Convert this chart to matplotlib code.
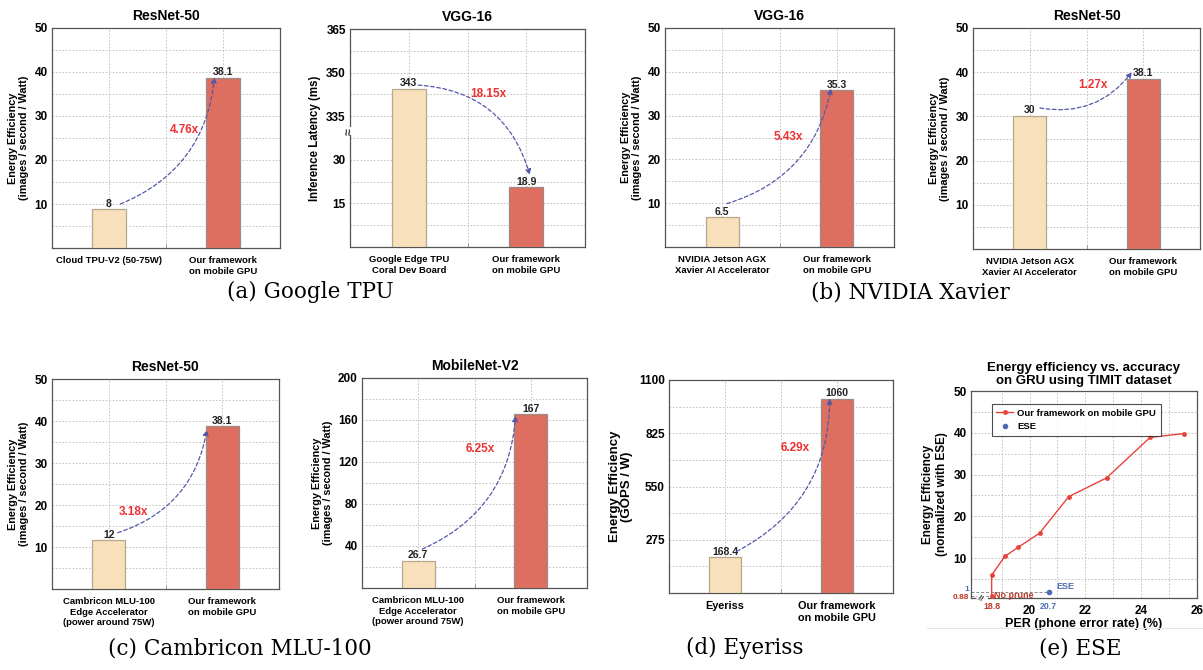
import matplotlib
matplotlib.use("Agg")
import matplotlib.pyplot as plt
from matplotlib.lines import Line2D

plt.rcParams['font.family'] = ['Liberation Sans', 'DejaVu Sans']
plt.rcParams['font.weight'] = 'bold'
plt.rcParams['axes.titleweight'] = 'bold'
plt.rcParams['axes.labelweight'] = 'bold'

W, H = 1203, 670

# ---- data ----
bar_names_tpu_resnet = ['Cloud TPU-V2 (50-75W)', 'Our framework\non mobile GPU']
tpu_resnet_heights = [8.8, 38.6]
tpu_resnet_labels = ['8', '38.1']

bar_names_tpu_vgg = ['Google Edge TPU\nCoral Dev Board', 'Our framework\non mobile GPU']
tpu_vgg_latency = [344.5, 20.5]
tpu_vgg_labels = ['343', '18.9']
tpu_vgg_ticklabels = ['15', '30', '335', '350', '365']

bar_names_xavier = ['NVIDIA Jetson AGX\nXavier AI Accelerator', 'Our framework\non mobile GPU']
xavier_vgg_heights = [6.8, 35.8]
xavier_vgg_labels = ['6.5', '35.3']
xavier_resnet_heights = [30.1, 38.5]
xavier_resnet_labels = ['30', '38.1']

bar_names_mlu = ['Cambricon MLU-100\nEdge Accelerator\n(power around 75W)', 'Our framework\non mobile GPU']
mlu_resnet_heights = [11.6, 38.7]
mlu_resnet_labels = ['12', '38.1']
mlu_mobilenet_heights = [26.0, 165.4]
mlu_mobilenet_labels = ['26.7', '167']

bar_names_eyeriss = ['Eyeriss', 'Our framework\non mobile GPU']
eyeriss_heights = [184, 1002]
eyeriss_labels = ['168.4', '1060']

ese_per = [18.64, 18.64, 19.11, 19.58, 20.36, 21.4, 22.76, 24.32, 25.52]
ese_eff = [1.0, 5.94, 10.4, 12.55, 15.98, 24.7, 29.2, 38.9, 39.8]
ese_point = (20.68, 1.9)

BEIGE = '#F8E1BA'
RED = '#DE6E5F'
ARROW = '#5458AA'
RATIO = '#EE3030'
GRID = '#BBBBBB'
SPINE = '#555555'


def px(l, t, r, b):
    return [l / W, 1 - b / H, (r - l) / W, (b - t) / H]


def bar_panel(ax, title, heights, labels, names, ylim, yticks, ystep, ylabel,
              ratio, ratio_xy, start, end, rad, yticklabels=None):
    xs = [1, 3]
    ax.bar(xs, heights, width=0.58, color=[BEIGE, RED],
           edgecolor=['#B5A88E', '#9E8A86'], linewidth=0.9, zorder=3)
    for x, h, lab in zip(xs, heights, labels):
        ax.annotate(lab, (x, h), xytext=(0, 0.5), textcoords='offset points',
                    ha='center', va='bottom', fontsize=7.5, color='#222222', zorder=5)
    ax.set_xlim(0, 4)
    ax.set_ylim(*ylim)
    ax.set_xticks(xs)
    ax.set_xticklabels(names, fontsize=6.8)
    ax.set_xticks([2], minor=True)
    ax.set_yticks(yticks)
    if yticklabels is not None:
        ax.set_yticklabels(yticklabels)
    ax.tick_params(axis='y', labelsize=8.5, length=0, pad=3)
    ax.tick_params(axis='x', which='both', direction='in', length=3, color='#888888', pad=6)
    gy = [ylim[0] + ystep * i for i in range(1, int(round((ylim[1] - ylim[0]) / ystep)))]
    for y in gy:
        ax.axhline(y, color=GRID, lw=0.6, ls=(0, (2, 2)), zorder=1)
    for x in [1, 2, 3]:
        ax.axvline(x, color=GRID, lw=0.6, ls=(0, (2, 2)), zorder=1)
    for s in ax.spines.values():
        s.set_color(SPINE)
        s.set_linewidth(0.9)
    ax.set_title(title, fontsize=10, pad=6)
    ax.set_ylabel(ylabel, fontsize=7.8, labelpad=4, linespacing=1.1)
    ax.annotate('', xy=end, xytext=start,
                arrowprops=dict(arrowstyle='-|>', linestyle=(0, (3, 2)), color=ARROW,
                                lw=0.9, connectionstyle='arc3,rad=%s' % rad,
                                shrinkA=0, shrinkB=0, mutation_scale=8), zorder=6)
    ax.text(ratio_xy[0], ratio_xy[1], ratio, color=RATIO, fontsize=8.5,
            ha='center', va='center', zorder=6)


fig = plt.figure(figsize=(W / 100, H / 100), dpi=100)

EE = 'Energy Efficiency\n(images / second / Watt)'

# (a) Google TPU
ax = fig.add_axes(px(52, 28, 280, 248))
bar_panel(ax, 'ResNet-50', tpu_resnet_heights, tpu_resnet_labels, bar_names_tpu_resnet,
          (0, 50), [10, 20, 30, 40, 50], 5, EE, '4.76x', (2.33, 26.9),
          (1.2, 10), (2.85, 38.8), 0.3)

ax = fig.add_axes(px(350, 29, 585, 247))
vgg_pos = [v if v < 37.5 else v - 290 for v in tpu_vgg_latency]
bar_panel(ax, 'VGG-16', vgg_pos, tpu_vgg_labels, bar_names_tpu_vgg,
          (0, 75), [15, 30, 45, 60, 75], 7.5, 'Inference Latency (ms)', '18.15x', (2.35, 52.5),
          (1.16, 55.7), (3.06, 24.8), -0.35, yticklabels=tpu_vgg_ticklabels)
ax.yaxis.label.set_size(8.3)
ax.text(0, 39.8, '\u2248', rotation=90, ha='center', va='center', fontsize=9,
        color='#333333', zorder=7, clip_on=False,
        bbox=dict(boxstyle='square,pad=0.05', fc='white', ec='none'))

# (b) NVIDIA Xavier
ax = fig.add_axes(px(665, 28, 894, 247))
bar_panel(ax, 'VGG-16', xavier_vgg_heights, xavier_vgg_labels, bar_names_xavier,
          (0, 50), [10, 20, 30, 40, 50], 5, EE, '5.43x', (2.15, 25),
          (1.08, 9.9), (2.9, 36.2), 0.3)

ax = fig.add_axes(px(973, 28, 1200, 249))
bar_panel(ax, 'ResNet-50', xavier_resnet_heights, xavier_resnet_labels, bar_names_xavier,
          (0, 50), [10, 20, 30, 40, 50], 5, EE, '1.27x', (2.12, 37.2),
          (1.18, 31.9), (2.8, 40.0), 0.3)

# (c) Cambricon MLU-100
ax = fig.add_axes(px(52, 379, 279, 589))
bar_panel(ax, 'ResNet-50', mlu_resnet_heights, mlu_resnet_labels, bar_names_mlu,
          (0, 50), [10, 20, 30, 40, 50], 5, EE, '3.18x', (1.43, 18.4),
          (1.16, 13.4), (2.73, 37.9), 0.3)

ax = fig.add_axes(px(362, 378, 587, 588))
bar_panel(ax, 'MobileNet-V2', mlu_mobilenet_heights, mlu_mobilenet_labels, bar_names_mlu,
          (0, 200), [40, 80, 120, 160, 200], 20, EE, '6.25x', (2.1, 132.7),
          (1.07, 37), (2.73, 164), 0.3)

# (d) Eyeriss
ax = fig.add_axes(px(669, 380, 893, 593))
bar_panel(ax, '', eyeriss_heights, eyeriss_labels, bar_names_eyeriss,
          (0, 1100), [275, 550, 825, 1100], 137.5, 'Energy Efficiency\n(GOPS / W)',
          '6.29x', (2.25, 748), (1.21, 215), (2.87, 1005), 0.3)
ax.yaxis.label.set_size(9.5)
ax.tick_params(axis='x', labelsize=7.8)

# (e) ESE
ax = fig.add_axes(px(971, 391, 1197, 598))
ax.set_xlim(17.9, 26)
ax.set_ylim(0.45, 50)
for x in range(19, 26):
    ax.axvline(x, color=GRID, lw=0.6, ls=(0, (2, 2)), zorder=1)
for y in range(5, 50, 5):
    ax.axhline(y, color=GRID, lw=0.6, ls=(0, (2, 2)), zorder=1)
ax.plot([17.9, ese_point[0]], [ese_point[1]] * 2, color='#888888', lw=0.7, ls=(0, (3, 2)), zorder=2)
ax.plot([17.9, ese_per[0]], [ese_eff[0]] * 2, color='#888888', lw=0.7, ls=(0, (3, 2)), zorder=2)
ax.plot(ese_per, ese_eff, color='#E8433B', lw=1.0, marker='o', ms=2.5,
        label='Our framework on mobile GPU', zorder=4)
ax.plot([ese_point[0]], [ese_point[1]], ls='none', marker='o', ms=3, color='#4A6CB3',
        label='ESE', zorder=4)
ax.set_xticks([20, 22, 24, 26])
ax.set_yticks([10, 20, 30, 40, 50])
ax.tick_params(labelsize=8.5, length=0, pad=3)
ax.tick_params(axis='x', pad=5)
for s in ax.spines.values():
    s.set_color(SPINE)
    s.set_linewidth(0.9)
ax.text(18.72, 1.0, 'No prune', color='#C0392B', fontsize=6.5, va='center', ha='left', zorder=5)
ax.text(20.95, 3.2, 'ESE', color='#4A6CB3', fontsize=6.5, va='center', ha='left', zorder=5)
ax.text(17.82, 1.6, '1', color='#4A6CB3', fontsize=6, va='bottom', ha='right')
ax.text(17.82, 1.4, '0.88', color='#C0392B', fontsize=6, va='top', ha='right')
ax.text(ese_per[0], -0.4, '18.8', color='#C0392B', fontsize=6.3, va='top', ha='center')
ax.text(ese_point[0], -0.4, '20.7', color='#4A6CB3', fontsize=6.3, va='top', ha='center')
ax.text(18.3, 0.45, '\u2248', rotation=60, ha='center', va='center', fontsize=8,
        color='#333333', zorder=7, clip_on=False,
        bbox=dict(boxstyle='square,pad=0.02', fc='white', ec='none'))
leg = ax.legend(loc='upper left', bbox_to_anchor=(0.07, 0.96), fontsize=6.8, frameon=True,
                fancybox=False, borderpad=0.5, handlelength=1.8, handletextpad=0.4,
                labelspacing=0.5)
leg.get_frame().set_edgecolor('#222222')
leg.get_frame().set_linewidth(0.8)
ax.set_title('Energy efficiency vs. accuracy\non GRU using TIMIT dataset', fontsize=9.5,
             pad=5, linespacing=1.15)
ax.set_xlabel('PER (phone error rate) (%)', fontsize=9, labelpad=1)
ax.set_ylabel('Energy Efficiency\n(normalized with ESE)', fontsize=8.5, labelpad=4)

fig.add_artist(Line2D([927 / W, 1.0], [1 - 628 / H] * 2, color='#E4E4E4', lw=0.8))

# captions
cap = dict(family=['DejaVu Serif'], fontsize=15.5, weight='normal', ha='center', va='center')
fig.text(310 / W, 1 - 292 / H, '(a) Google TPU', **cap)
fig.text(910 / W, 1 - 292 / H, '(b) NVIDIA Xavier', **cap)
fig.text(240 / W, 1 - 648 / H, '(c) Cambricon MLU-100', **cap)
fig.text(745 / W, 1 - 648 / H, '(d) Eyeriss', **cap)
fig.text(1080 / W, 1 - 648 / H, '(e) ESE', **cap)

fig.savefig('out.png', dpi=100)
